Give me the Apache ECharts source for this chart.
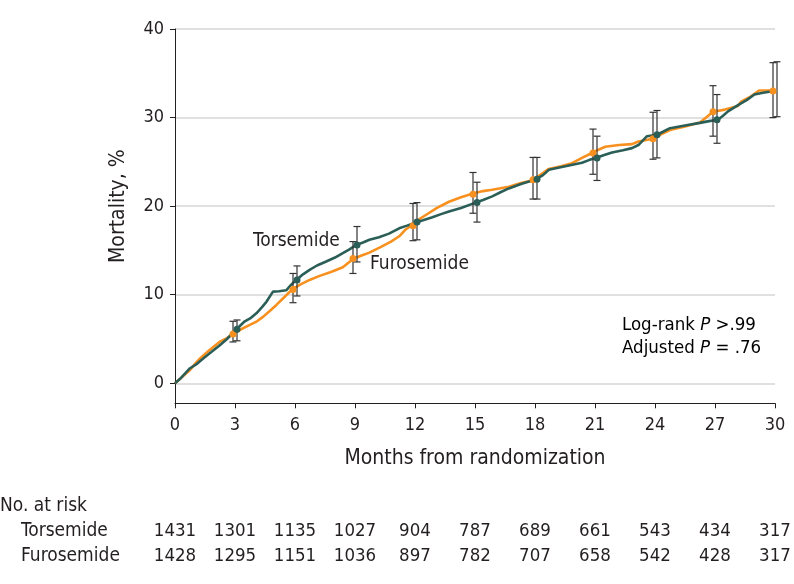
<!DOCTYPE html>
<html>
<head>
<meta charset="utf-8">
<script src="https://cdn.jsdelivr.net/npm/echarts@6/dist/echarts.min.js"></script>
<style>html,body{margin:0;padding:0;background:#fff}#c{width:794px;height:584px}</style>
</head>
<body>
<div id="c"></div>
<script>
// ---- Data ----
const torsMonths = [0,0.3,0.75,1.1,1.41,1.8,2.24,2.6,3.07,3.49,3.8,4.07,4.35,4.57,4.9,5.2,5.56,5.8,6.06,6.4,6.73,7.1,7.56,8.0,8.39,8.7,9.05,9.4,9.72,10.2,10.7,11.21,11.6,12.04,12.4,12.87,13.3,13.7,14.3,15.03,15.4,15.86,16.3,16.69,17.3,18.02,18.4,18.69,19.1,19.52,20.35,20.7,21.1,21.5,21.85,22.4,22.85,23.17,23.6,24.1,24.4,24.75,25.5,26.25,26.7,27.15,27.4,27.65,28.15,28.6,28.97,29.4,29.8,30.0];
const torsPct    = [0,0.6,1.7,2.2,2.8,3.5,4.3,5.0,6.1,7.0,7.4,7.9,8.6,9.2,10.35,10.4,10.5,11.1,11.67,12.3,12.8,13.3,13.75,14.2,14.7,15.1,15.6,15.9,16.2,16.5,16.9,17.5,17.8,18.15,18.4,18.75,19.1,19.4,19.8,20.4,20.7,21.1,21.6,22.0,22.5,23.0,23.5,24.1,24.3,24.5,24.9,25.2,25.5,25.8,26.05,26.3,26.55,26.9,27.9,28.06,28.4,28.8,29.1,29.4,29.6,29.75,30.2,30.7,31.4,32.0,32.6,32.8,32.95,33.2];
const furoMonths = [0,0.35,0.75,1.0,1.25,1.7,2.24,2.6,2.9,3.3,3.74,4.1,4.4,4.75,5.07,5.5,5.86,6.3,6.73,7.2,7.72,8.05,8.39,8.89,9.3,9.72,10.3,10.8,11.21,11.5,11.87,12.2,12.54,13.1,13.7,14.3,14.86,15.4,15.86,16.69,17.3,17.85,18.3,18.69,19.3,19.85,20.4,20.85,21.2,21.51,22.2,22.85,23.17,23.9,24.3,24.75,25.5,26.25,26.6,26.9,27.5,28.15,28.3,28.8,29.2,30.0];
const furoPct    = [0,0.7,1.5,2.2,2.8,3.7,4.7,5.1,5.57,6.1,6.6,7.0,7.5,8.2,8.85,9.8,10.6,11.2,11.67,12.1,12.5,12.8,13.1,14.0,14.4,14.75,15.4,16.0,16.6,17.3,17.9,18.5,19.0,19.8,20.5,21.0,21.4,21.7,21.85,22.2,22.6,22.9,23.6,24.2,24.5,24.85,25.5,26.0,26.4,26.7,26.9,27.0,27.3,27.6,28.1,28.6,29.0,29.45,30.1,30.65,30.9,31.3,31.8,32.4,33.05,33.05];

const markerMonths = [3,6,9,12,15,18,21,24,27,30];
const torsAt = [6.1,11.67,15.6,18.2,20.4,23.05,25.45,28.06,29.75,33.2];
const torsLo = [4.8,9.86,13.7,16.2,18.2,20.8,22.9,25.45,27.1,30.1];
const torsHi = [7.15,13.25,17.7,20.4,22.7,25.5,27.9,30.8,32.6,36.3];
const furoAt = [5.57,10.6,14.1,17.8,21.35,22.97,26.0,27.6,30.65,33.0];
const furoLo = [4.67,9.1,12.4,16.1,19.2,20.8,23.6,25.3,27.9,30.0];
const furoHi = [7.0,12.4,16.0,20.3,23.8,25.5,28.7,30.6,33.6,36.2];

const xTicks = [0,3,6,9,12,15,18,21,24,27,30];
const groups = ['Torsemide','Furosemide'];
const riskTors = [1431,1301,1135,1027,904,787,689,661,543,434,317];
const riskFuro = [1428,1295,1151,1036,897,782,707,658,542,428,317];

// ---- Styles ----
const FONT = '"DejaVu Sans Condensed","DejaVu Sans",sans-serif';
const INK = '#231f20';
const C_TORS = '#2b5e57';
const C_FURO = '#f7901e';
const DODGE = 0.1;

const zip = (a,b) => a.map((v,i)=>[v,b[i]]);

function errBars(lo, hi, shift){
  return markerMonths.map((m,i)=>[m+shift, lo[i], hi[i]]);
}
function renderErr(params, api){
  const x = api.value(0), lo = api.value(1), hi = api.value(2);
  const pLo = api.coord([x, lo]), pHi = api.coord([x, hi]);
  const cap = 3.5;
  const st = {stroke:'#333', lineWidth:1.2};
  return {type:'group', children:[
    {type:'line', shape:{x1:pLo[0],y1:pLo[1],x2:pHi[0],y2:pHi[1]}, style:st},
    {type:'line', shape:{x1:pLo[0]-cap,y1:pLo[1],x2:pLo[0]+cap,y2:pLo[1]}, style:st},
    {type:'line', shape:{x1:pHi[0]-cap,y1:pHi[1],x2:pHi[0]+cap,y2:pHi[1]}, style:st}
  ]};
}

const riskData = [];
xTicks.forEach((m,i)=>{
  riskData.push([m, groups[0], riskTors[i]]);
  riskData.push([m, groups[1], riskFuro[i]]);
});

const richP = {
  n:{fontSize:18.5, fontFamily:FONT, color:INK},
  i:{fontSize:18.5, fontStyle:'italic', fontFamily:FONT, color:INK}
};

const chart = echarts.init(document.getElementById('c'), null, {renderer:'canvas'});
chart.setOption({
  animation:false,
  backgroundColor:'#fff',
  textStyle:{fontFamily:FONT, color:INK},
  grid:[
    {left:175, right:19, top:29, height:354.3},
    {left:175, right:19, top:29, height:374.3},
    {left:175, right:19, top:519, height:50}
  ],
  xAxis:[
    {gridIndex:0, type:'value', min:0, max:30, show:false},
    {gridIndex:1, type:'value', min:0, max:30, interval:3,
      axisLine:{show:true, lineStyle:{color:INK, width:1}},
      axisTick:{show:true, length:5, lineStyle:{color:INK}},
      axisLabel:{fontSize:18, color:INK, margin:13, fontFamily:FONT},
      splitLine:{show:false},
      name:'Months from randomization', nameLocation:'middle', nameGap:45,
      nameTextStyle:{fontSize:21, color:INK, fontFamily:FONT}},
    {gridIndex:2, type:'value', min:0, max:30, show:false}
  ],
  yAxis:[
    {gridIndex:0, type:'value', min:0, max:40, interval:10,
      axisLine:{show:false},
      axisTick:{show:true, length:5, lineStyle:{color:INK}},
      axisLabel:{fontSize:18, color:INK, margin:11, fontFamily:FONT},
      splitLine:{show:true, lineStyle:{color:'#d6d6d6', width:1.5}},
      name:'Mortality, %', nameLocation:'middle', nameGap:46,
      nameTextStyle:{fontSize:21, color:INK, fontFamily:FONT}},
    {gridIndex:1, type:'value', min:0, max:1,
      axisLine:{show:true, lineStyle:{color:INK, width:1}},
      axisTick:{show:false}, axisLabel:{show:false}, splitLine:{show:false}},
    {gridIndex:2, type:'category', data:groups, inverse:true,
      axisLine:{show:false}, axisTick:{show:false}, splitLine:{show:false},
      axisLabel:{align:'left', margin:154, fontSize:19, color:INK, fontFamily:FONT}}
  ],
  series:[
    {type:'line', name:'Furosemide', xAxisIndex:0, yAxisIndex:0, showSymbol:false,
      data:zip(furoMonths, furoPct), lineStyle:{color:C_FURO, width:2.6}, z:2},
    {type:'line', name:'Torsemide', xAxisIndex:0, yAxisIndex:0, showSymbol:false,
      data:zip(torsMonths, torsPct), lineStyle:{color:C_TORS, width:2.6}, z:3},
    {type:'custom', xAxisIndex:0, yAxisIndex:0, renderItem:renderErr,
      data:errBars(furoLo, furoHi, -DODGE), z:4},
    {type:'custom', xAxisIndex:0, yAxisIndex:0, renderItem:renderErr,
      data:errBars(torsLo, torsHi, DODGE), z:4},
    {type:'scatter', xAxisIndex:0, yAxisIndex:0, symbolSize:7,
      data:markerMonths.map((m,i)=>[m-DODGE, furoAt[i]]), itemStyle:{color:C_FURO, opacity:1}, z:5},
    {type:'scatter', xAxisIndex:0, yAxisIndex:0, symbolSize:7,
      data:markerMonths.map((m,i)=>[m+DODGE, torsAt[i]]), itemStyle:{color:C_TORS, opacity:1}, z:5},
    {type:'scatter', xAxisIndex:2, yAxisIndex:2, symbolSize:0.01,
      itemStyle:{color:INK, opacity:1},
      label:{show:true, position:'inside', formatter:p=>String(p.value[2]),
        fontSize:18.5, color:INK, opacity:1, textBorderWidth:0, fontFamily:FONT},
      data:riskData}
  ],
  graphic:[
    {type:'text', left:253, top:232, style:{text:'Torsemide', font:'19px '+FONT, fill:INK}},
    {type:'text', left:370, top:255, style:{text:'Furosemide', font:'19px '+FONT, fill:INK}},
    {type:'text', left:622, top:316, style:{text:'{n|Log-rank }{i|P}{n| >.99}', rich:richP}},
    {type:'text', left:622, top:339, style:{text:'{n|Adjusted }{i|P}{n| = .76}', rich:richP}},
    {type:'text', left:0, top:497, style:{text:'No. at risk', font:'19px '+FONT, fill:INK}}
  ]
});
</script>
</body>
</html>
